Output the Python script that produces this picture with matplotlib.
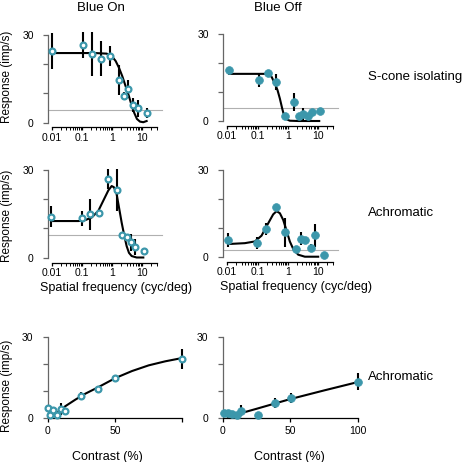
import numpy as np
import matplotlib
matplotlib.use('Agg')
import matplotlib.pyplot as plt
from matplotlib.ticker import FixedLocator, FixedFormatter, NullFormatter

plt.rcParams['font.family'] = ['Liberation Sans', 'DejaVu Sans']

TEAL = '#3c97ab'
W, H = 464, 462

# ---------------- data ----------------
# Blue On, S-cone isolating (spatial frequency)
sf_on_s = [0.01, 0.106, 0.216, 0.43, 0.873, 1.69, 2.54, 3.44, 5.04, 7.0, 14.3]
r_on_s = [24.4, 26.5, 23.5, 21.8, 22.7, 14.7, 9.1, 11.5, 6.1, 4.9, 3.3]
e_on_s = [6.1, 4.4, 7.5, 6.0, 3.4, 5.1, 1.5, 3.1, 2.3, 2.9, 1.7]
base_on_s = 4.3
fit_sf_on_s = [0.01, 0.272, 0.66, 0.966, 1.31, 1.69, 2.18, 2.81, 3.62, 4.44, 5.44, 6.65, 8.37, 10.8, 13.9]
fit_r_on_s = [23.7, 23.7, 23.5, 22.7, 21.0, 18.7, 15.8, 12.4, 9.0, 5.9, 3.3, 1.3, 0.4, 0.2, 0.6]

# Blue Off, S-cone isolating
sf_off_s = [0.0116, 0.108, 0.214, 0.41, 0.817, 1.62, 2.31, 3.2, 4.45, 6.03, 11.9]
r_off_s = [17.4, 14.1, 16.6, 13.4, 1.6, 6.6, 1.6, 2.4, 1.6, 3.0, 3.3]
e_off_s = [1.0, 2.3, 0.8, 2.6, 0.8, 3.0, 1.0, 2.0, 1.0, 1.2, 1.0]
base_off_s = 4.5
fit_sf_off_s = [0.0116, 0.175, 0.224, 0.29, 0.372, 0.456, 0.545, 0.65, 0.757, 0.904, 1.16, 2.2, 10.8]
fit_r_off_s = [16.2, 16.2, 16.1, 15.2, 12.9, 10.6, 7.7, 4.3, 1.7, 0.6, 0.1, 0.0, 0.0]

# Blue On, achromatic (spatial frequency)
sf_on_a = [0.0095, 0.098, 0.185, 0.368, 0.712, 1.45, 2.18, 3.03, 4.21, 5.7, 11.4]
r_on_a = [14.0, 13.5, 14.8, 15.3, 26.9, 23.1, 7.6, 6.9, 5.3, 3.6, 2.2]
e_on_a = [3.7, 2.6, 5.2, 1.0, 3.3, 7.3, 1.3, 1.3, 2.9, 2.6, 0.8]
base_on_a = 7.6
fit_sf_on_a = [0.01, 0.0762, 0.127, 0.21, 0.35, 0.512, 0.75, 0.966, 1.15, 1.41, 1.69, 2.07, 2.54, 3.03, 3.62, 4.44, 6.49, 10.8]
fit_r_on_a = [12.5, 12.5, 12.8, 13.7, 16.0, 19.5, 23.0, 24.5, 24.1, 21.8, 17.2, 12.0, 7.4, 3.9, 1.6, 0.5, 0.0, 0.0]

# Blue Off, achromatic
sf_off_a = [0.0108, 0.093, 0.188, 0.392, 0.817, 1.79, 2.69, 3.73, 5.73, 7.76, 15.8]
r_off_a = [5.8, 4.7, 9.7, 17.1, 8.5, 2.7, 6.2, 5.8, 3.0, 7.4, 0.7]
e_off_a = [2.5, 2.0, 2.0, 1.0, 5.0, 1.0, 2.3, 1.0, 1.5, 4.0, 0.5]
base_off_a = 2.3
fit_sf_off_a = [0.0108, 0.0382, 0.0817, 0.1355, 0.225, 0.328, 0.423, 0.545, 0.70, 0.904, 1.16, 1.5, 2.19, 3.63, 10.0]
fit_r_off_a = [4.4, 4.7, 5.3, 7.3, 11.6, 14.7, 15.8, 15.1, 12.8, 9.1, 5.3, 2.7, 0.7, 0.0, 0.0]

# Blue On, achromatic (contrast)
c_on = [0.2, 1.7, 4.0, 6.7, 9.7, 13.2, 25.1, 37.5, 50.1, 100]
rc_on = [3.7, 1.0, 2.8, 1.0, 3.2, 2.5, 8.1, 10.9, 14.9, 22.0]
ec_on = [0.5, 0.5, 0.5, 0.5, 2.2, 0.5, 1.5, 0.8, 0.8, 3.7]
fit_c_on = [3.2, 8.2, 13.2, 20.6, 28.0, 38.0, 50.4, 62.8, 75.2, 87.6, 100]
fit_rc_on = [0.4, 2.5, 4.4, 6.8, 9.0, 11.5, 14.8, 17.4, 19.5, 21.0, 22.2]

# Blue Off, achromatic (contrast)
c_off = [1.0, 3.7, 6.9, 10.4, 13.8, 26.2, 38.8, 50.9, 100]
rc_off = [1.9, 1.9, 1.6, 1.0, 2.7, 1.1, 5.6, 7.4, 13.5]
ec_off = [0.5, 0.5, 0.5, 0.5, 2.0, 0.5, 1.8, 2.0, 3.0]
fit_c_off = [3.7, 25, 50, 75, 100]
fit_rc_off = [0.4, 3.4, 7.0, 10.2, 13.3]

sf_ticks = [0.01, 0.1, 1, 10]
sf_labels = ['0.01', '0.1', '1', '10']
resp_ticks = [0, 10, 20, 30]
resp_labels = ['0', '', '', '30']

# ---------------- figure ----------------
fig = plt.figure(figsize=(W / 100, H / 100), dpi=100)


def place(rect, xcal, ycal, xlog):
    l, r, t, b = rect
    f = np.log10 if xlog else (lambda v: v)
    xv1, xp1, xv2, xp2 = xcal
    sx = (xp2 - xp1) / (f(xv2) - f(xv1))
    x0 = f(xv1) + (l - xp1) / sx
    x1 = f(xv1) + (r - xp1) / sx
    yv1, yp1, yv2, yp2 = ycal
    sy = (yp2 - yp1) / (yv2 - yv1)
    y0 = yv1 + (b - yp1) / sy
    y1 = yv1 + (t - yp1) / sy
    ax = fig.add_axes([l / W, 1 - b / H, (r - l) / W, (b - t) / H])
    ax.patch.set_alpha(0)
    if xlog:
        ax.set_xscale('log')
        ax.set_xlim(10 ** x0, 10 ** x1)
    else:
        ax.set_xlim(x0, x1)
    ax.set_ylim(y0, y1)
    for s in ['top', 'right']:
        ax.spines[s].set_visible(False)
    ax.spines['left'].set_bounds(0, 30)
    ax.spines['left'].set_color('#666666')
    ax.spines['left'].set_linewidth(0.9)
    ax.spines['bottom'].set_linewidth(0.9)
    ax.yaxis.set_major_locator(FixedLocator(resp_ticks))
    ax.yaxis.set_major_formatter(FixedFormatter(resp_labels))
    ax.tick_params(axis='y', length=3.5, width=0.9, color='#666666', pad=7, labelsize=7.5)
    if xlog:
        ax.spines['bottom'].set_bounds(0.01, 30)
        ax.xaxis.set_major_locator(FixedLocator(sf_ticks))
        ax.xaxis.set_major_formatter(FixedFormatter(sf_labels))
        minors = [m * d for d in [0.01, 0.1, 1, 10] for m in range(2, 10) if m * d <= 30]
        ax.xaxis.set_minor_locator(FixedLocator(minors))
        ax.xaxis.set_minor_formatter(NullFormatter())
        ax.tick_params(axis='x', which='major', length=2.5, width=0.9, pad=1.5, labelsize=7.5)
        ax.tick_params(axis='x', which='minor', length=2.0, width=0.7)
    else:
        ax.spines['bottom'].set_bounds(0, 100)
        ax.tick_params(axis='x', length=3, width=0.9, pad=3, labelsize=7.5)
    return ax


def draw(ax, x, y, e, fx, fy, filled, base=None):
    if base is not None:
        ax.axhline(base, color='#b0b0b0', lw=0.8, zorder=1, clip_on=False)
    ax.plot(fx, fy, color='black', lw=1.5, zorder=2, clip_on=False)
    ax.errorbar(x, y, yerr=e, fmt='none', ecolor='black', elinewidth=1.5,
                capsize=0, zorder=3, clip_on=False)
    if filled:
        ax.plot(x, y, 'o', ms=5.6, mfc=TEAL, mec=TEAL, mew=0.5, zorder=4,
                clip_on=False, ls='none')
    else:
        ax.plot(x, y, 'o', ms=4.2, mfc='white', mec=TEAL, mew=1.6, zorder=4,
                clip_on=False, ls='none')


ax1 = place((48.3, 162, 30, 127), (0.01, 51.7, 10, 142.3), (0, 122.8, 30, 34.5), True)
draw(ax1, sf_on_s, r_on_s, e_on_s, fit_sf_on_s, fit_r_on_s, False, base_on_s)

ax2 = place((223.3, 338, 30, 125.5), (0.01, 227.2, 10, 318.2), (0, 121, 30, 33.7), True)
draw(ax2, sf_off_s, r_off_s, e_off_s, fit_sf_off_s, fit_r_off_s, True, base_off_s)

ax3 = place((48.3, 162, 165, 262.5), (0.01, 51.7, 10, 142.3), (0, 257.5, 30, 170), True)
draw(ax3, sf_on_a, r_on_a, e_on_a, fit_sf_on_a, fit_r_on_a, False, base_on_a)

ax4 = place((223.3, 338, 165, 261.5), (0.01, 227.2, 10, 318.2), (0, 256.7, 30, 170.3), True)
draw(ax4, sf_off_a, r_off_a, e_off_a, fit_sf_off_a, fit_r_off_a, True, base_off_a)

ax5 = place((47.7, 186, 330, 418), (0, 47.7, 100, 182), (0, 418, 30, 337), False)
ax5.xaxis.set_major_locator(FixedLocator([0, 50, 100]))
ax5.xaxis.set_major_formatter(FixedFormatter(['0', '50', '']))
draw(ax5, c_on, rc_on, ec_on, fit_c_on, fit_rc_on, False)

ax6 = place((222.7, 362, 330, 418), (0, 222.7, 100, 357.7), (0, 418, 30, 337), False)
ax6.xaxis.set_major_locator(FixedLocator([0, 50, 100]))
ax6.xaxis.set_major_formatter(FixedFormatter(['0', '50', '100']))
draw(ax6, c_off, rc_off, ec_off, fit_c_off, fit_rc_off, True)


def T(x, y, s, size, ha='center', va='center', rot=0):
    fig.text(x / W, 1 - y / H, s, fontsize=size, ha=ha, va=va, rotation=rot)


T(101, 8, 'Blue On', 9.5)
T(277.7, 8, 'Blue Off', 9.5)
T(368.3, 76.7, 'S-cone isolating', 9.5, ha='left')
T(368.3, 212.7, 'Achromatic', 9.5, ha='left')
T(368.3, 376.7, 'Achromatic', 9.5, ha='left')
for yy in [77, 216, 386]:
    T(7, yy, 'Response (imp/s)', 8.5, rot=90)
T(116.3, 287.7, 'Spatial frequency (cyc/deg)', 9)
T(296, 287.3, 'Spatial frequency (cyc/deg)', 9)
T(107.7, 456.7, 'Contrast (%)', 9)
T(289, 456.7, 'Contrast (%)', 9)

fig.savefig('out.png', dpi=100)
